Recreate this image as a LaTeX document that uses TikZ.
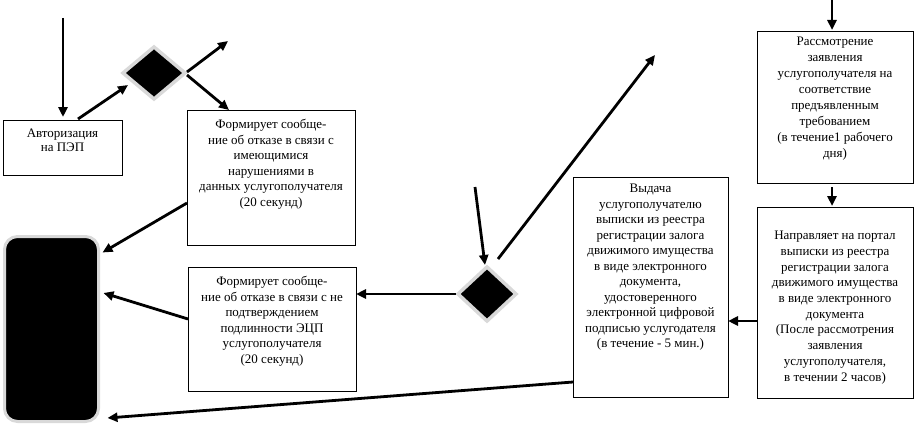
\documentclass[tikz,border=0pt]{standalone}
\usepackage{fontspec}
\setmainfont{Liberation Serif}
\usetikzlibrary{arrows.meta,shapes.geometric,calc}
\tikzset{
  stepbox/.style={draw=black, line width=0.9pt, rectangle, inner sep=0pt, outer sep=0pt},
  txt/.style={anchor=north, align=center, inner sep=0pt, font=\fontsize{13}{15.5}\selectfont},
  dec/.style={shape=diamond, inner sep=0pt, outer sep=0pt, fill=black, draw=gray!30, line width=3.5pt},
  term/.style={rectangle, rounded corners=13pt, inner sep=0pt, outer sep=0pt, fill=black, draw=gray!30, line width=3pt},
  arr/.style={line width=2.8pt, -{Triangle[length=10pt,width=9pt]}}
}
\begin{document}
\begin{tikzpicture}[x=1pt,y=-1pt]
\useasboundingbox (0,0) rectangle (915,428);

% boxes
\node[stepbox, minimum width=119pt, minimum height=55pt] (auth) at (62.5,147.5) {};
\node[stepbox, minimum width=168pt, minimum height=135pt] (rej1) at (271,177.5) {};
\node[stepbox, minimum width=168pt, minimum height=124pt] (rej2) at (272,329) {};
\node[stepbox, minimum width=155pt, minimum height=220pt] (out) at (650.5,287) {};
\node[stepbox, minimum width=156pt, minimum height=191pt] (send) at (835,302.5) {};
\node[stepbox, minimum width=156pt, minimum height=152pt] (review) at (835,107) {};

% terminal and decisions
\node[term, minimum width=94pt, minimum height=185pt] (end) at (51.5,329) {};
\node[dec, minimum width=62pt, minimum height=52pt] (d1) at (154,73) {};
\node[dec, minimum width=58pt, minimum height=54pt] (d2) at (487,294) {};

% texts
\node[txt, font=\fontsize{13}{13.5}\selectfont] (tauth) at ([shift={(0,9)}]auth.north) {Авторизация\\на ПЭП};
\node[txt] (trej1) at ([shift={(0,9)}]rej1.north) {Формирует сообще-\\ние об отказе в связи с\\имеющимися\\нарушениями в\\данных услугополучателя\\(20 секунд)};
\node[txt] (trej2) at ([shift={(0,9)}]rej2.north) {Формирует сообще-\\ние об отказе в связи с не\\подтверждением\\подлинности ЭЦП\\услугополучателя\\(20 секунд)};
\node[txt, font=\fontsize{13}{15.9}\selectfont] (treview) at ([shift={(0,6)}]review.north) {Рассмотрение\\заявления\\услугополучателя на\\соответствие\\предъявленным\\требованием\\(в течение1 рабочего\\дня)};
\node[txt] (tout) at ([shift={(0,7)}]out.north) {Выдача\\услугополучателю\\выписки из реестра\\регистрации залога\\движимого имущества\\в виде электронного\\документа,\\удостоверенного\\электронной цифровой\\подписью услугодателя\\(в течение - 5 мин.)};
\node[txt, font=\fontsize{13}{15.7}\selectfont] (tsend) at ([shift={(0,24)}]send.north) {Направляет на портал\\выписки из реестра\\регистрации залога\\движимого имущества\\в виде электронного\\документа\\(После рассмотрения\\заявления\\услугополучателя,\\в течении 2 часов)};

% free ends
\coordinate (s1) at (63,18);
\coordinate (u1) at (228,41);
\coordinate (s2) at (475,187);
\coordinate (u2) at (655,55);
\coordinate (s3) at (832,0);

% connectors
\draw[arr, shorten >=3pt] (s1) -- (s1 |- auth.north);
\draw[arr] ([shift={(15.5,-1)}]auth.north) -- ([shift={(5,12)}]d1.west);
\draw[arr] ([shift={(2,-1)}]d1.east) -- (u1);
\draw[arr] ([shift={(2,2)}]d1.east) -- ([shift={(42,0)}]rej1.north west);
\draw[arr] ([shift={(0,25.5)}]rej1.west) -- ([shift={(4,16)}]end.north east);
\draw[arr] ([shift={(0,-10)}]rej2.west) -- ([shift={(5,-36)}]end.east);
\draw[arr] ([shift={(-2,0)}]d2.west) -- (rej2.east |- d2.west);
\draw[arr] (s2) -- ([shift={(-2,-2)}]d2.north);
\draw[arr] ([shift={(11,-8)}]d2.north) -- (u2);
\draw[arr, shorten >=1pt] (s3) -- (s3 |- review.north);
\draw[arr, shorten <=4pt, shorten >=1pt] (s3 |- review.south) -- (s3 |- send.north);
\draw[arr] ([shift={(0,18.5)}]send.west) -- ([shift={(0,34)}]out.east);
\draw[arr] ([shift={(0,95)}]out.west) -- ([shift={(9,89)}]end.east);
\end{tikzpicture}
\end{document}
